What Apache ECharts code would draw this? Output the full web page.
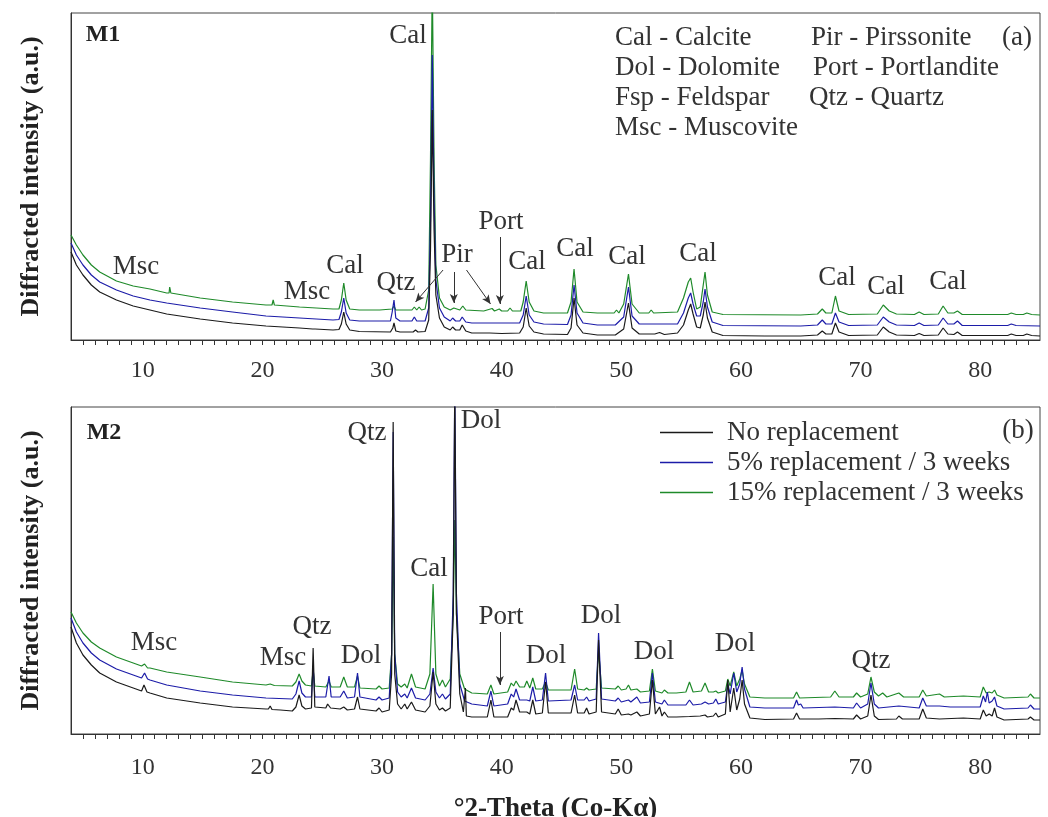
<!DOCTYPE html>
<html>
<head>
<meta charset="utf-8">
<script src="https://cdn.jsdelivr.net/npm/echarts@6.0.0/dist/echarts.min.js"></script>
<style>
  html, body { margin: 0; padding: 0; background: #fff; }
  #xrd { width: 1048px; height: 817px; }
</style>
</head>
<body>
<div id="xrd"></div>
<script>
// series names (legend)
var seriesNames = ['No replacement', '5% replacement / 3 weeks', '15% replacement / 3 weeks'];

// x axis tick labels and minor tick positions (°2-Theta)
var xTickLabels = [10, 20, 30, 40, 50, 60, 70, 80];
var xMinorTicks = [5, 6, 7, 8, 9, 10, 11, 12, 13, 14, 15, 16, 17, 18, 19, 20, 21, 22, 23, 24, 25, 26, 27, 28, 29, 30,
  31, 32, 33, 34, 35, 36, 37, 38, 39, 40, 41, 42, 43, 44, 45, 46, 47, 48, 49, 50, 51, 52, 53, 54, 55, 56, 57, 58, 59, 60,
  61, 62, 63, 64, 65, 66, 67, 68, 69, 70, 71, 72, 73, 74, 75, 76, 77, 78, 79, 80, 81, 82, 83, 84];

// ---- M1 patterns (a) : [2theta, intensity a.u.] ----
var m1Black = [[4, 88], [4.45, 75], [5.0, 65], [5.7, 55], [6.4, 48], [7.8, 40], [9.2, 34], [10.6, 30], [12.0, 26], [14.8, 21],
  [17.5, 17], [20.3, 14], [23.1, 12], [24.2, 11], [24.3, 13], [24.4, 11], [25.9, 10], [26.4, 10.5], [26.6, 16], [26.8, 28],
  [27.0, 16], [27.3, 10], [28.1, 8.5], [30.7, 8], [30.9, 12], [31.0, 17], [31.15, 9], [31.5, 8], [32.6, 8], [32.8, 10],
  [33.0, 8], [33.6, 8.5], [33.9, 20], [34.05, 90], [34.2, 230], [34.35, 110], [34.5, 45], [34.8, 22], [35.2, 13], [35.7, 10],
  [35.9, 13], [36.0, 14], [36.15, 10], [36.5, 10], [36.7, 15], [36.8, 14], [37.0, 9], [37.5, 7], [39.0, 7], [40.0, 6.5],
  [41.5, 7], [41.8, 13], [42.05, 32], [42.3, 14], [42.7, 8], [43.5, 6], [45.5, 5.5], [45.8, 12], [46.05, 42], [46.3, 15],
  [46.8, 7], [48, 5], [49.5, 5], [50.2, 11], [50.6, 37], [50.9, 12], [51.5, 6], [52.8, 6], [53.2, 7.5], [53.6, 5.5],
  [54.7, 7], [55.2, 15], [55.6, 30], [55.8, 36], [56.0, 26], [56.3, 13], [56.6, 12], [56.85, 25], [57.0, 38], [57.2, 22],
  [57.6, 8], [58.5, 4.5], [62, 4], [65, 4], [66.4, 5], [66.8, 9], [67.1, 6], [67.6, 6], [67.9, 17], [68.2, 8], [69, 4.5],
  [71.4, 5], [71.9, 13], [72.4, 8], [73, 5], [74.5, 4.5], [74.9, 6.5], [75.3, 4.5], [76.5, 5], [76.9, 12], [77.3, 6],
  [77.8, 5.5], [78.1, 8], [78.5, 4.5], [82.3, 4.5], [82.6, 6], [83, 4.5], [83.6, 4.5], [83.9, 6], [84.3, 4.5], [85, 4]];

var m1Blue = [[4, 97], [4.45, 85], [5.0, 75], [5.7, 65], [6.4, 58], [7.8, 50], [9.2, 44], [10.6, 40], [12.0, 37], [14.8, 32],
  [17.5, 28], [20.3, 24], [23.1, 22], [25.9, 20], [26.4, 20.5], [26.6, 28], [26.8, 42], [27.0, 27], [27.3, 20], [28.1, 19],
  [30.7, 19], [30.85, 28], [31.0, 40], [31.15, 22], [31.5, 19], [32.5, 19], [32.7, 23], [32.9, 19], [33.6, 19], [33.9, 32],
  [34.05, 120], [34.2, 285], [34.35, 140], [34.5, 60], [34.8, 32], [35.2, 23], [35.7, 19], [35.9, 22], [36.0, 23], [36.15, 19],
  [36.5, 19], [36.7, 23], [36.8, 22], [37.0, 18], [37.5, 17], [40.0, 17], [41.5, 17], [41.8, 25], [42.05, 44], [42.3, 25],
  [42.7, 18], [43.5, 16], [45.5, 15.5], [45.8, 25], [46.05, 55], [46.3, 27], [46.8, 17], [48, 15], [49.5, 15], [50.2, 23],
  [50.6, 53], [50.9, 24], [51.5, 16], [54.7, 16], [55.2, 27], [55.6, 42], [55.8, 47], [56.0, 36], [56.3, 24], [56.6, 24],
  [56.85, 38], [57.0, 51], [57.2, 33], [57.6, 18], [58.5, 14.5], [65, 14], [66.4, 15], [66.8, 20], [67.1, 16], [67.6, 16],
  [67.9, 27], [68.2, 18], [69, 14.5], [71.4, 15], [71.9, 23], [72.4, 18], [73, 15], [74.5, 14.5], [74.9, 17], [75.3, 14.5],
  [76.5, 15], [76.9, 22], [77.3, 16], [77.8, 16], [78.1, 19], [78.5, 14.5], [82.3, 14.5], [82.6, 16], [83, 14.5], [85, 14]];

var m1Green = [[4, 105], [4.45, 95], [5.0, 85], [5.7, 75], [6.4, 68], [7.8, 59], [9.2, 54], [10.6, 51], [12.0, 47], [12.2, 47],
  [12.25, 53], [12.35, 47], [14.8, 42], [17.5, 38], [20.3, 35], [20.8, 35], [20.9, 40], [21.0, 35], [23.1, 33], [25.9, 31],
  [26.4, 31], [26.6, 40], [26.8, 57], [27.0, 40], [27.3, 31], [28.1, 30], [29.8, 30], [30.85, 31], [31.0, 34], [31.15, 30],
  [32.5, 30], [32.7, 33], [32.9, 30], [33.1, 33], [33.3, 30], [33.6, 31], [33.9, 50], [34.05, 180], [34.2, 360], [34.35, 180],
  [34.5, 75], [34.8, 42], [35.2, 33], [35.7, 30], [36.0, 32], [36.15, 30], [36.5, 30], [36.75, 34], [37.0, 30], [38.5, 29],
  [39.2, 31.5], [39.4, 29], [39.8, 31], [40.0, 29], [40.5, 29], [40.7, 32], [40.9, 29], [41.6, 29], [41.8, 38], [42.05, 59],
  [42.3, 38], [42.7, 29], [43.5, 27], [45.5, 27], [45.8, 38], [46.05, 71], [46.3, 38], [46.8, 28], [48, 27], [49.4, 27],
  [49.6, 30], [49.8, 27], [50.2, 36], [50.6, 66], [50.9, 36], [51.5, 27], [52.3, 27], [52.5, 30], [52.7, 27], [54.7, 28],
  [55.2, 42], [55.6, 58], [55.8, 62], [56.0, 48], [56.3, 31], [56.6, 33], [56.85, 55], [57.0, 68], [57.2, 45], [57.6, 28],
  [58.5, 25.5], [65, 25], [66.4, 26], [66.8, 31], [67.1, 27], [67.6, 27], [67.9, 44], [68.2, 29], [69, 25.5], [71.4, 26],
  [71.9, 35], [72.4, 29], [73, 26], [74.5, 25.5], [74.9, 28], [75.3, 25.5], [76.5, 26], [76.9, 34], [77.3, 27], [77.8, 27],
  [78.1, 29], [78.5, 25.5], [82.3, 25.5], [82.6, 27], [83, 25.5], [83.6, 25.5], [83.9, 27], [84.3, 25.5], [85, 25]];

// ---- M2 patterns (b) ----
var m2Black = [[4, 107], [4.45, 91], [5.0, 79], [5.7, 69], [6.4, 61], [7.8, 52], [9.2, 46], [9.9, 43], [10.1, 49], [10.35, 42],
  [10.6, 41], [12.0, 36], [14.8, 31], [17.5, 27], [20.3, 25], [20.5, 25], [20.65, 28], [20.8, 24.5], [21.5, 24], [22.5, 23],
  [22.8, 27], [23.07, 39], [23.3, 28], [23.6, 25], [24.1, 26], [24.24, 86], [24.38, 27], [25.3, 26], [25.45, 30], [25.57, 32],
  [25.7, 26], [26.5, 25], [26.8, 27], [27.1, 24], [27.7, 25], [27.95, 37], [28.15, 25], [29.5, 23], [29.75, 26], [30.0, 22],
  [30.6, 24], [30.8, 60], [30.93, 312], [31.06, 60], [31.3, 30], [31.6, 25], [31.9, 30], [32.1, 25], [32.46, 32], [32.8, 24],
  [33.6, 22], [34.0, 28], [34.27, 62], [34.5, 30], [34.8, 24], [35.05, 26], [35.3, 23], [35.7, 26], [35.95, 120], [36.08, 345],
  [36.22, 120], [36.5, 40], [36.8, 22], [36.9, 20], [36.97, 46], [37.05, 18], [37.5, 17], [38.8, 17], [39.1, 34], [39.35, 17],
  [40.5, 17], [40.8, 26], [41.0, 24], [41.2, 34], [41.5, 22], [42.1, 22], [42.35, 20], [42.6, 34], [42.85, 20], [43.4, 21],
  [43.67, 52], [43.9, 21], [45.8, 21], [46.1, 39], [46.35, 21], [46.9, 21], [47.1, 26], [47.3, 20], [47.9, 22], [48.1, 94],
  [48.35, 22], [49.5, 20], [49.74, 25], [50.0, 19], [50.6, 20], [50.8, 19], [51.3, 22], [51.6, 18], [52.35, 20], [52.6, 54],
  [52.85, 20], [53.2, 27], [53.4, 18], [53.6, 22], [53.9, 17], [54.6, 17], [55.7, 17.5], [56.6, 18], [57.0, 19], [57.2, 17],
  [57.7, 18], [57.9, 21], [58.1, 17], [58.7, 20], [58.9, 54], [59.1, 22], [59.4, 46], [59.65, 24], [59.9, 35], [60.1, 54],
  [60.3, 30], [60.75, 16], [62, 14.5], [64.4, 15], [64.65, 21], [64.9, 15], [66.5, 15], [67.85, 15.5], [69.4, 15], [69.67, 19],
  [70.0, 15], [70.6, 18], [70.87, 39], [71.15, 18], [71.5, 14.5], [73.0, 15], [73.2, 18], [73.5, 15], [74.9, 15], [75.2, 25],
  [75.5, 16], [76.6, 15], [78.6, 16], [80.0, 15], [80.26, 24], [80.5, 18], [80.75, 20], [81.0, 18], [81.2, 26], [81.4, 17],
  [82, 14], [84.0, 15], [84.2, 17], [84.5, 14], [85, 14]];

var m2Blue = [[4, 116], [4.45, 102], [5.0, 91], [5.7, 81], [6.4, 74], [7.8, 65], [9.2, 59], [9.9, 56], [10.15, 61], [10.4, 55],
  [10.6, 54], [12.0, 49], [14.8, 43], [17.5, 39], [20.3, 36], [22.5, 35], [22.8, 40], [23.07, 53], [23.3, 41], [23.6, 37],
  [24.1, 37], [24.24, 68], [24.38, 37], [25.3, 37], [25.57, 58], [25.75, 37], [26.5, 37], [26.8, 43], [27.1, 36], [27.7, 37],
  [27.95, 61], [28.15, 37], [29.5, 34], [29.75, 37], [30.0, 34], [30.6, 36], [30.8, 80], [30.93, 302], [31.06, 80], [31.3, 42],
  [31.6, 37], [31.9, 40], [32.1, 36], [32.46, 46], [32.8, 36], [33.6, 34], [34.0, 40], [34.27, 66], [34.5, 42], [34.8, 36],
  [35.05, 40], [35.3, 35], [35.7, 40], [35.95, 140], [36.08, 350], [36.22, 140], [36.5, 50], [36.9, 33], [37.5, 30], [38.8, 28],
  [39.1, 43], [39.35, 28], [40.5, 30], [40.8, 40], [41.0, 37], [41.2, 45], [41.5, 34], [42.1, 34], [42.35, 33], [42.6, 47],
  [42.85, 33], [43.4, 34], [43.67, 61], [43.9, 33], [45.8, 34], [46.1, 49], [46.35, 34], [46.9, 34], [47.1, 37], [47.3, 33],
  [47.9, 35], [48.1, 101], [48.35, 35], [49.5, 33], [49.74, 36], [50.0, 32], [50.6, 34], [50.8, 32], [51.3, 37], [51.6, 31],
  [52.35, 32], [52.6, 61], [52.85, 32], [53.4, 30], [53.6, 34], [53.9, 29], [54.6, 29], [55.4, 29], [55.7, 34], [56.0, 29],
  [56.7, 30], [57.0, 32], [57.3, 30], [57.7, 31], [57.9, 35], [58.1, 30], [58.7, 32], [58.9, 50], [59.1, 40], [59.4, 61],
  [59.65, 42], [59.9, 50], [60.1, 67], [60.3, 45], [60.75, 27], [62, 26], [64.4, 26], [64.65, 34], [64.8, 29], [65.0, 30],
  [65.2, 26], [67.85, 27], [69.4, 26], [69.67, 31], [70.0, 26], [70.6, 30], [70.87, 51], [71.15, 30], [71.5, 26], [73.2, 28],
  [74.9, 26], [75.2, 36], [75.5, 28], [76.6, 28], [77.5, 27], [80.0, 27], [80.26, 38], [80.45, 32], [80.6, 42], [80.75, 31],
  [81.0, 33], [81.2, 37], [81.4, 28], [82, 25], [84.0, 26], [84.2, 29], [84.5, 25], [85, 25]];

var m2Green = [[4, 122], [4.45, 111], [5.0, 101], [5.7, 92], [6.4, 86], [7.8, 77], [9.2, 71], [9.9, 68], [10.15, 70], [10.4, 66],
  [10.6, 66], [12.0, 62], [14.8, 57], [17.5, 52], [20.3, 49], [20.65, 50], [21.0, 48.5], [22.5, 48], [22.8, 52], [23.07, 60],
  [23.3, 53], [23.6, 49], [24.1, 48], [24.24, 64], [24.38, 48], [25.3, 47], [25.57, 53], [25.75, 47], [26.5, 47], [26.8, 57],
  [27.1, 47], [27.7, 47], [27.95, 58], [28.15, 46], [29.5, 45], [29.75, 48], [30.0, 45], [30.6, 46], [30.8, 80], [30.93, 197],
  [31.06, 80], [31.3, 50], [31.6, 47], [31.9, 50], [32.1, 46], [32.46, 60], [32.8, 47], [33.6, 45], [34.0, 60], [34.27, 150],
  [34.5, 60], [34.8, 48], [35.05, 54], [35.3, 47], [35.7, 55], [35.95, 120], [36.08, 214], [36.22, 120], [36.5, 60], [36.9, 45],
  [37.5, 41], [38.8, 40], [39.1, 49], [39.35, 40], [40.5, 42], [40.8, 51], [41.0, 48], [41.2, 53], [41.5, 47], [41.9, 47],
  [42.1, 53], [42.35, 46], [42.6, 56], [42.85, 45], [43.4, 45], [43.67, 52], [43.9, 44], [45.8, 44], [46.1, 65], [46.35, 45],
  [46.9, 44], [47.1, 46], [47.3, 44], [47.9, 45], [48.1, 84], [48.35, 46], [49.5, 45], [49.74, 48], [50.0, 44], [50.4, 45],
  [50.6, 49], [50.8, 44], [51.3, 45], [51.6, 42], [52.35, 43], [52.6, 65], [52.85, 43], [53.4, 41], [53.6, 44], [53.9, 41],
  [54.6, 41], [55.4, 42], [55.7, 52], [56.0, 42], [56.7, 43], [57.0, 51], [57.3, 42], [57.7, 42], [57.9, 43], [58.1, 41],
  [58.7, 43], [58.9, 55], [59.1, 48], [59.4, 62], [59.65, 48], [59.9, 55], [60.1, 64], [60.3, 50], [60.75, 37], [62, 36],
  [64.4, 36], [64.65, 42], [64.9, 36], [67.5, 37], [67.85, 43], [68.2, 37], [69.4, 37], [69.67, 41], [70.0, 37], [70.6, 40],
  [70.87, 57], [71.15, 42], [71.5, 38], [71.85, 41], [72.2, 37], [73.2, 41], [73.6, 37], [74.9, 37], [75.2, 44], [75.5, 38],
  [76.6, 40], [77, 37], [78.6, 38], [80.0, 37], [80.26, 47], [80.5, 41], [80.75, 42], [81.0, 41], [81.2, 44], [81.4, 39],
  [82, 36], [84.0, 37], [84.2, 40], [84.5, 36], [85, 36]];

// arrows [[x0, y0], [x1, y1]] in data units
var m1Arrows = [[[35.1, 70], [32.8, 38]], [[36.0, 68], [36.0, 37]], [[37.06, 70], [39.07, 36]], [[39.85, 103], [39.85, 36]]];
var m2Arrows = [[[39.85, 102], [39.85, 49]]];

var colors = ['#1a1a1a', '#1c1ca8', '#1f8a2a'];
var serif = '"Liberation Serif", "DejaVu Serif", serif';

// peak labels [text, px, py]
var m1Labels = [['Msc', 136, 267], ['Msc', 307, 292], ['Cal', 345, 266], ['Qtz', 396, 283], ['Cal', 408, 36],
  ['Pir', 457, 255], ['Port', 501, 222], ['Cal', 527, 262], ['Cal', 575, 249], ['Cal', 627, 257], ['Cal', 698, 254],
  ['Cal', 837, 278], ['Cal', 886, 287], ['Cal', 948, 282]];
var m2Labels = [['Msc', 154, 643], ['Msc', 283, 658], ['Qtz', 312, 627], ['Dol', 361, 656], ['Qtz', 367, 433],
  ['Cal', 429, 569], ['Dol', 481, 421], ['Port', 501, 617], ['Dol', 546, 656], ['Dol', 601, 616], ['Dol', 654, 652],
  ['Dol', 735, 644], ['Qtz', 871, 661]];
var keyLabels = [['Cal - Calcite', 615, 38], ['Dol - Dolomite', 615, 68], ['Fsp - Feldspar', 615, 98], ['Msc - Muscovite', 615, 128],
  ['Pir - Pirssonite', 811, 38], ['Port - Portlandite', 813, 68], ['Qtz - Quartz', 809, 98]];

var chart = echarts.init(document.getElementById('xrd'));

function xAxisFor(gi, margin, withName) {
  return {
    type: 'value', gridIndex: gi, min: 4, max: 85,
    axisLine: { show: true, onZero: false, lineStyle: { color: '#333', width: 1 } },
    axisTick: { show: true, customValues: xMinorTicks, length: 5, lineStyle: { color: '#333' } },
    axisLabel: { customValues: xTickLabels, fontFamily: serif, fontSize: 24, color: '#333', margin: margin },
    splitLine: { show: false },
    name: withName ? '°2-Theta (Co-Kα)' : '',
    nameLocation: 'middle', nameGap: 62,
    nameTextStyle: { fontFamily: serif, fontSize: 27, fontWeight: 'bold', color: '#222' }
  };
}
function yAxisFor(gi) {
  return {
    type: 'value', gridIndex: gi, min: 0, max: 327,
    axisLine: { show: true, lineStyle: { color: '#333' } },
    axisTick: { show: false },
    axisLabel: { show: false },
    splitLine: { show: false },
    name: 'Diffracted intensity (a.u.)',
    nameLocation: 'middle', nameGap: 27,
    nameTextStyle: { fontFamily: serif, fontSize: 26, fontWeight: 'bold', color: '#222' }
  };
}
function arrowLine(list) {
  return {
    silent: true, animation: false,
    symbol: ['none', 'arrow'], symbolSize: [6, 9],
    label: { show: false },
    lineStyle: { color: '#333', width: 1, type: 'solid' },
    emphasis: { disabled: true },
    data: list.map(function (a) { return [{ coord: a[0] }, { coord: a[1] }]; })
  };
}
function lineSeries(name, data, ci, gi, marks) {
  var s = {
    name: name, type: 'line', xAxisIndex: gi, yAxisIndex: gi, data: data,
    symbol: 'none', smooth: false, clip: true, animation: false,
    lineStyle: { color: colors[ci], width: 1.2 }, itemStyle: { color: colors[ci] },
    z: 3 - ci
  };
  if (marks) s.markLine = marks;
  return s;
}

var graphics = [];
m1Labels.concat(m2Labels).forEach(function (l) {
  graphics.push({ type: 'text', x: l[1], y: l[2], silent: true,
    style: { text: l[0], font: '27px ' + serif, fill: '#333', align: 'center', verticalAlign: 'middle' } });
});
keyLabels.forEach(function (l) {
  graphics.push({ type: 'text', x: l[1], y: l[2], silent: true,
    style: { text: l[0], font: '27px ' + serif, fill: '#333', align: 'left', verticalAlign: 'middle' } });
});
[['M1', 103, 35], ['M2', 104, 433]].forEach(function (l) {
  graphics.push({ type: 'text', x: l[1], y: l[2], silent: true,
    style: { text: l[0], font: 'bold 24px ' + serif, fill: '#222', align: 'center', verticalAlign: 'middle' } });
});
[['(a)', 1017, 38], ['(b)', 1018, 431]].forEach(function (l) {
  graphics.push({ type: 'text', x: l[1], y: l[2], silent: true,
    style: { text: l[0], font: '27px ' + serif, fill: '#333', align: 'center', verticalAlign: 'middle' } });
});

var option = {
  backgroundColor: '#fff',
  animation: false,
  grid: [
    { left: 71, right: 8, top: 13, height: 327, show: true, borderColor: '#444', borderWidth: 1,
      backgroundColor: 'transparent', outerBoundsMode: 'none', containLabel: false },
    { left: 71, right: 8, top: 407, height: 327, show: true, borderColor: '#444', borderWidth: 1,
      backgroundColor: 'transparent', outerBoundsMode: 'none', containLabel: false }
  ],
  xAxis: [xAxisFor(0, 19, false), xAxisFor(1, 22, true)],
  yAxis: [yAxisFor(0), yAxisFor(1)],
  legend: {
    data: seriesNames, orient: 'vertical', left: 655, top: 414,
    icon: 'rect', itemWidth: 53, itemHeight: 1.5, itemGap: 3, selectedMode: false,
    textStyle: { fontFamily: serif, fontSize: 27, color: '#333', lineHeight: 27, padding: [0, 0, 0, 9] }
  },
  graphic: graphics,
  series: [
    lineSeries(seriesNames[0], m1Black, 0, 0, arrowLine(m1Arrows)),
    lineSeries(seriesNames[1], m1Blue, 1, 0),
    lineSeries(seriesNames[2], m1Green, 2, 0),
    lineSeries(seriesNames[0], m2Black, 0, 1, arrowLine(m2Arrows)),
    lineSeries(seriesNames[1], m2Blue, 1, 1),
    lineSeries(seriesNames[2], m2Green, 2, 1)
  ]
};
chart.setOption(option);
</script>
</body>
</html>
